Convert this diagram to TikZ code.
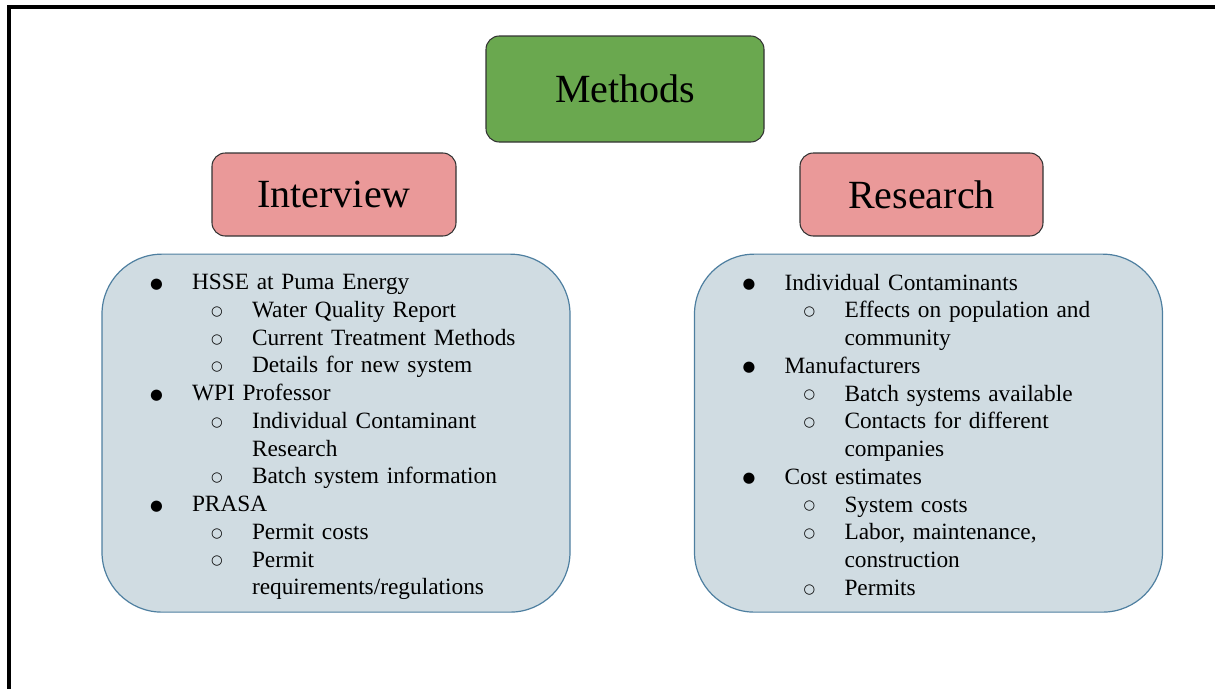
\documentclass[tikz,border=0pt]{standalone}
\usepackage{fontspec}
\setmainfont{Liberation Serif}
\newfontfamily\dotfont{DejaVu Sans}
\usetikzlibrary{positioning}

\definecolor{methodgreen}{HTML}{6AA84F}
\definecolor{headpink}{HTML}{EA9999}
\definecolor{listgray}{HTML}{D0DCE2}
\definecolor{listedge}{HTML}{4E7FA0}

\newcommand{\lvlone}[1]{\makebox[31.5pt][l]{\raisebox{1.2pt}{\dotfont\fontsize{11}{11}\selectfont ●}}#1}
\newcommand{\lvltwo}[1]{\hspace*{45.75pt}\makebox[30.75pt][l]{\raisebox{1.6pt}{\dotfont\fontsize{10}{10}\selectfont ○}}#1}
\newcommand{\lvlcont}[1]{\hspace*{76.5pt}#1}

\tikzset{
  title box/.style={draw=black!80,rounded corners=10pt,line width=0.8pt,
    font=\fontsize{30}{36}\selectfont},
  list box/.style={draw=listedge,fill=listgray,line width=0.9pt,rounded corners=45pt,
    minimum width=351pt,minimum height=268.5pt,inner sep=0pt,text width=279pt,
    align=left,font=\fontsize{17.5}{20.8}\selectfont}
}

\begin{document}
\begin{tikzpicture}[x=0.75pt,y=-0.75pt]
  \clip (0,0) rectangle (1215,689);
  \useasboundingbox (0,0) rectangle (1215,689);
  \draw[line width=3pt] (9,7) rectangle (1240,720);

  \node[title box,fill=methodgreen,minimum width=208.5pt,minimum height=79.5pt] (methods) at (625,89) {Methods};
  \node[title box,fill=headpink,minimum width=183pt,minimum height=62.25pt] (interview) at (334,194.5) {Interview};
  \node[title box,fill=headpink,minimum width=182.25pt,minimum height=62.25pt] (research) at (921.5,194.5) {Research};

  \node[list box,below=12.75pt of interview,xshift=1.5pt] (interviewlist) {%
    \rule{0pt}{17.5pt}\lvlone{HSSE at Puma Energy}\\
    \lvltwo{Water Quality Report}\\
    \lvltwo{Current Treatment Methods}\\
    \lvltwo{Details for new system}\\
    \lvlone{WPI Professor}\\
    \lvltwo{Individual Contaminant}\\
    \lvlcont{Research}\\
    \lvltwo{Batch system information}\\
    \lvlone{PRASA}\\
    \lvltwo{Permit costs}\\
    \lvltwo{Permit}\\
    \lvlcont{requirements/regulations}};

  \node[list box,below=12.75pt of research,xshift=5.25pt] (researchlist) {%
    \rule{0pt}{14.5pt}\lvlone{Individual Contaminants}\\
    \lvltwo{Effects on population and}\\
    \lvlcont{community}\\
    \lvlone{Manufacturers}\\
    \lvltwo{Batch systems available}\\
    \lvltwo{Contacts for different}\\
    \lvlcont{companies}\\
    \lvlone{Cost estimates}\\
    \lvltwo{System costs}\\
    \lvltwo{Labor, maintenance,}\\
    \lvlcont{construction}\\
    \lvltwo{Permits}};
\end{tikzpicture}
\end{document}
